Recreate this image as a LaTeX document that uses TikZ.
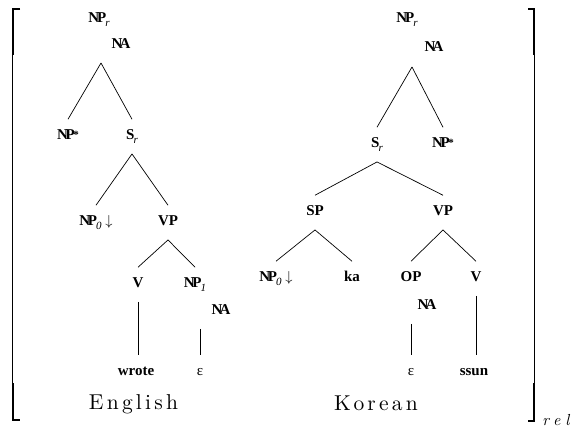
\documentclass[tikz,border=0pt]{standalone}
\usepackage{fontspec}
\usepackage{tikz}
\newfontfamily\tms{Liberation Serif}
\newfontfamily\lmsp[Extension=.otf, LetterSpace=15]{lmroman10-regular}
\newfontfamily\lmit[Extension=.otf, LetterSpace=30]{lmroman10-italic}
\def\np{N\kern-.15em P}
\def\na{N\kern-.2em A}
\def\lo#1{\kern-.06em\raisebox{-.5ex}{\fontsize{11}{11}\selectfont\mdseries\itshape #1}}
\def\ft{\kern-.1em\raisebox{.15ex}{\fontsize{11}{11}\selectfont *}}
\def\dn{\kern.25em$\downarrow$}
\def\eps{{\mdseries ε}}

\begin{document}
\begin{tikzpicture}[x=1pt, y=-1pt, line width=.7pt,
                      every node/.style = {inner xsep=0pt, inner ysep=10pt,
                        text height=10pt, text depth=4pt, anchor=base,
                        font=\tms\bfseries\fontsize{15}{17}\selectfont},
                      lang/.style = {inner ysep=0pt,
                        font=\lmsp\fontsize{21.5}{25}\selectfont},
                      bracket/.style = {line width=2pt}]
  \useasboundingbox (0,0) rectangle (573,430);

  % English
  \node (eroot) at (99,23) {\np\lo{r}};
  \node (ena1) at (121,49) {\na};
  \coordinate (etop) at (101,63);
  \node (enpf) at (68,139.6) {\np\ft};
  \node (es) at (132,139.6) {S\lo{r}};
  \node (enpz) at (96,225.6) {\np\lo{0}\dn};
  \node (evp) at (168,225.6) {VP};
  \node (ev) at (138,287.6) {V};
  \node (enpo) at (195,287.6) {\np\lo{1}};
  \node (ena2) at (221,314.6) {\na};
  \node (ewrote) at (136,375.5) {wrote};
  \node (eeps) at (200,375.5) {\eps};
  \node[lang] (eng) at (133.5,409) {English};

  \draw (etop) -- (enpf.north);
  \draw (etop) -- (es.north);
  \draw (es.south) -- (enpz.north);
  \draw (es.south) -- (evp.north);
  \draw (evp.south) -- (ev.north);
  \draw (evp.south) -- (enpo.north);
  \draw (ev.south) -- (ev |- ewrote.north);
  \draw (eeps |- ena2.south) -- (eeps.north);

  % Korean
  \node (kroot) at (407,23) {\np\lo{r}};
  \node (kna1) at (434,51.6) {\na};
  \coordinate (ktop) at (412,67);
  \node (ks) at (377,147.6) {S\lo{r}};
  \node (knpf) at (443,147.6) {\np\ft};
  \node (ksp) at (315,215.6) {SP};
  \node (kvp) at (443,215.6) {VP};
  \node (knpz) at (276,281.6) {\np\lo{0}\dn};
  \node (kka) at (352,281.6) {ka};
  \node (kop) at (411,281.6) {OP};
  \node (kv) at (476,281.6) {V};
  \node (kna2) at (427,309.6) {\na};
  \node (keps) at (411,375.5) {\eps};
  \node (kssun) at (474,375.5) {ssun};
  \node[lang] (kor) at (376,410) {Korean};

  \draw (ktop) -- (ks.north);
  \draw (ktop) -- (knpf.north);
  \draw (ks.south) -- (ksp.north);
  \draw (ks.south) -- (kvp.north);
  \draw (ksp.south) -- (knpz.north);
  \draw (ksp.south) -- (kka.north);
  \draw (kvp.south) -- (kop.north);
  \draw (kvp.south) -- (kv.north);
  \draw (keps |- kna2.south) -- (keps.north);
  \draw (kv.south) -- (kv |- kssun.north);

  % brackets
  \draw (12.5,55) -- (12.5,383);
  \draw[bracket] (20,9) -- (12.5,9) -- (12.5,55);
  \draw[bracket] (12.5,383) -- (12.5,420) -- (20,420);
  \draw (534,55) -- (534,383);
  \draw[bracket] (528,9) -- (534,9) -- (534,55);
  \draw[bracket] (534,383) -- (534,421) -- (528,421);
  \node[inner ysep=0pt, anchor=base west, font=\lmit\fontsize{16}{18}\selectfont]
        (rel) at (542,425) {rel};
\end{tikzpicture}
\end{document}
